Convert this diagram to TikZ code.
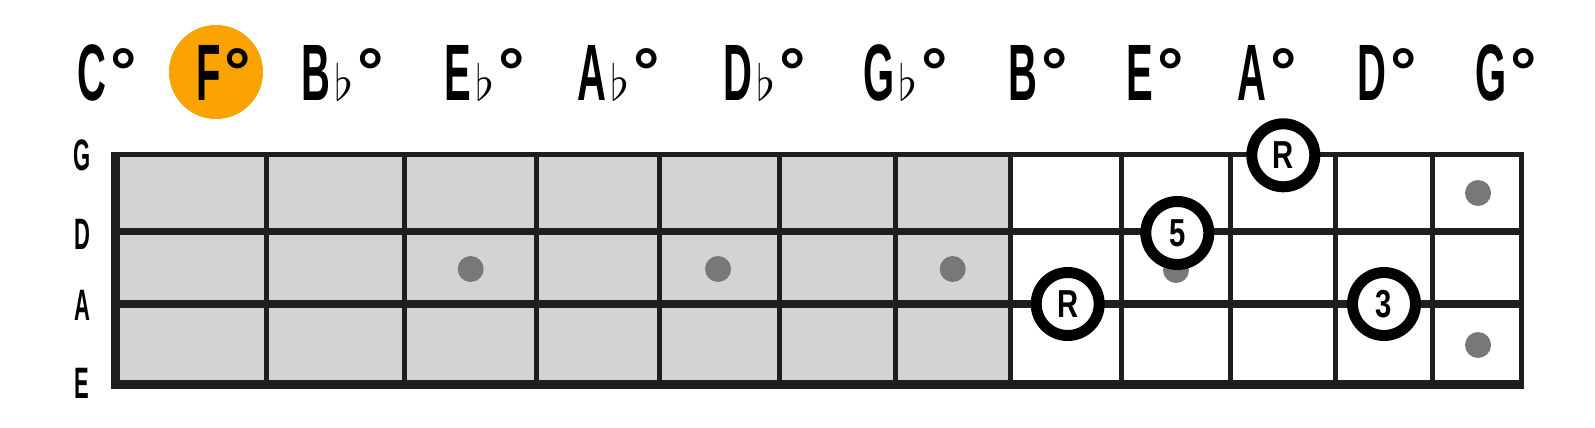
\documentclass[tikz,border=0pt]{standalone}
\usepackage{fontspec}
\setmainfont{Liberation Sans}
\usetikzlibrary{positioning}
\definecolor{dimorange}{RGB}{250, 162, 0}
\definecolor{fretgray}{RGB}{211, 211, 211}
\definecolor{dotgray}{RGB}{120, 120, 120}
\definecolor{inkblack}{RGB}{32, 29, 30}
\newcommand{\cond}[1]{\scalebox{0.5}[1]{#1}}
\newcommand{\fl}{\hspace{2pt}{\fontsize{34}{34}\selectfont$\flat$}}
\newcommand{\dg}{\hspace{2pt}\raisebox{3pt}{\fontsize{33}{33}\selectfont °}}
\newcommand{\mk}[1]{\scalebox{0.75}[1]{#1}}

\begin{document}
\begin{tikzpicture}[x=0.5pt, y=-0.5pt,
  chordlbl/.style={anchor=base west, inner sep=0pt, font=\fontsize{40}{44}\selectfont\bfseries},
  strlbl/.style={anchor=base, inner sep=0pt, font=\fontsize{22}{24}\selectfont\bfseries},
  fretline/.style={draw=inkblack, line width=2.5pt},
  notemark/.style={circle, draw=black, line width=5.5pt, fill=white, minimum size=31.5pt,
    inner sep=0pt, font=\fontsize{19.5}{20}\selectfont\bfseries},
  inlay/.style={fill=dotgray}
]
  \useasboundingbox (0,0) rectangle (1595,428);
  % neck, grey up to the 7th fret
  \fill[fretgray] (115,154) rectangle (1010,385);
  \foreach \x in {266,404,536,659.5,779,895.7,1010,1121,1230,1335,1432,1521.5}
    \draw[fretline] (\x,154) -- (\x,385);
  \draw[inkblack, line width=4.5pt] (115.5,152) -- (115.5,389.2);
  \foreach \y/\w in {154.5/2.25pt, 231.7/3.4pt, 304/4pt, 384.7/4.5pt}
    \draw[inkblack, line width=\w] (111,\y) -- (1524,\y);
  \foreach \x/\y in {470.7/269, 718/269, 952.7/269, 1176/270, 1478/193, 1478/345}
    \fill[inlay] (\x,\y) circle (6.5pt);

  % string names
  \foreach \s/\y in {G/170, D/249, A/320.5, E/398}
    \node[strlbl] (s\s) at (82,\y) {\cond{\s}};

  % chord names
  \node[circle, fill=dimorange, minimum size=47pt, inner sep=0pt] (hl) at (216,72) {};
  \foreach \n/\x/\l/\a in {C/77/C/\relax, F/196/F/\relax, Bb/301/B/\fl, Eb/444/E/\fl,
      Ab/577/A/\fl, Db/723/D/\fl, Gb/863/G/\fl, B/1008/B/\relax, E/1126/E/\relax,
      A/1237/A/\relax, D/1357/D/\relax, G/1475/G/\relax}
    \node[chordlbl] (c\n) at (\x,100) {\cond{\l}\a\dg};

  % chord tones
  \node[notemark] (r1) at (1067.7,304) {\mk{R}};
  \node[notemark] (f5) at (1177.3,233) {\mk{5}};
  \node[notemark] (r2) at (1283.3,155.3) {\mk{R}};
  \node[notemark] (t3) at (1384,304) {\mk{3}};
\end{tikzpicture}
\end{document}
